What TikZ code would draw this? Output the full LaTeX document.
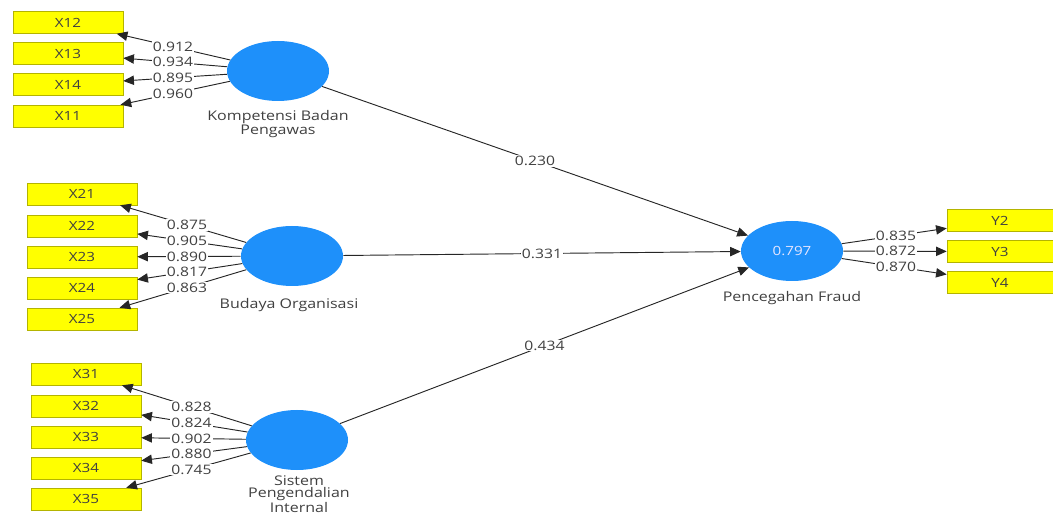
\documentclass[tikz,border=0pt]{standalone}
\usepackage{fontspec}
\setmainfont{Open Sans}[FakeStretch=1.2]
\usetikzlibrary{arrows.meta,shapes.geometric,calc}
\definecolor{lvblue}{HTML}{1E90FA}
\definecolor{mvyellow}{HTML}{FFFF00}
\definecolor{mvedge}{HTML}{B4B400}
\definecolor{txtgray}{HTML}{404040}
\begin{document}
\begin{tikzpicture}[x=0.75pt,y=-0.75pt,
  indicator/.style={draw=mvedge, fill=mvyellow, minimum width=82.5pt,
    minimum height=16.5pt, inner sep=0pt, text=txtgray,
    font=\fontsize{9.5}{10}\selectfont},
  latent/.style={ellipse, fill=lvblue, draw=none, minimum width=76.5pt,
    minimum height=45pt, inner sep=0pt, text=blue!10,
    font=\fontsize{9.5}{10}\selectfont},
  link/.style={draw=black!85, line width=0.7pt,
    -{Triangle[length=8pt,width=7pt]}},
  coef/.style={fill=white, inner sep=0.8pt, text=txtgray,
    font=\fontsize{9.8}{10}\selectfont},
  lvlabel/.style={text=txtgray, align=center, inner sep=0pt,
    font=\fontsize{10}{10.5}\selectfont}]
\useasboundingbox (0,0) rectangle (1053,516);

% latent variables
\node[latent] (k) at (278,71) {};
\node[latent] (b) at (292,256) {};
\node[latent] (s) at (297,440) {};
\node[latent] (p) at (792,251) {0.797};

\node[lvlabel] (kl) at (278,124) {Kompetensi Badan\\Pengawas};
\node[lvlabel] (bl) at (289,305) {Budaya Organisasi};
\node[lvlabel, font=\fontsize{10}{9.6}\selectfont] (sl) at (299,494)
  {Sistem\\Pengendalian\\Internal};
\node[lvlabel] (pl) at (792,298) {Pencegahan Fraud};

% indicators
\node[indicator] (x12) at (68,22.5) {X12};
\node[indicator] (x13) at (68,53.5) {X13};
\node[indicator] (x14) at (68,84.5) {X14};
\node[indicator] (x11) at (68,116) {X11};

\node[indicator] (x21) at (82,194) {X21};
\node[indicator] (x22) at (82,226) {X22};
\node[indicator] (x23) at (82,257) {X23};
\node[indicator] (x24) at (82,288) {X24};
\node[indicator] (x25) at (82,319) {X25};

\node[indicator] (x31) at (86,374) {X31};
\node[indicator] (x32) at (86,406) {X32};
\node[indicator] (x33) at (86,437) {X33};
\node[indicator] (x34) at (86,468) {X34};
\node[indicator] (x35) at (86,499) {X35};

\node[indicator, minimum width=79.5pt] (y2) at (1000,220.5) {Y2};
\node[indicator, minimum width=79.5pt] (y3) at (1000,251.5) {Y3};
\node[indicator, minimum width=79.5pt] (y4) at (1000,282.5) {Y4};

% outer loadings
\foreach \lv/\mv/\val in {k/x12/0.912, k/x13/0.934, k/x14/0.895, k/x11/0.960,
    b/x21/0.875, b/x22/0.905, b/x23/0.890, b/x24/0.817, b/x25/0.863,
    s/x31/0.828, s/x32/0.824, s/x33/0.902, s/x34/0.880, s/x35/0.745,
    p/y2/0.835, p/y3/0.872, p/y4/0.870} {
  \draw[link] (\lv) -- (\mv);
  \node[coef] at ($(\lv)!0.5!(\mv)$) {\val};
}

% path coefficients
\foreach \lv/\val in {k/0.230, b/0.331, s/0.434} {
  \draw[link] (\lv) -- (p);
  \node[coef] at ($(\lv)!0.5!(p)$) {\val};
}
\end{tikzpicture}
\end{document}
